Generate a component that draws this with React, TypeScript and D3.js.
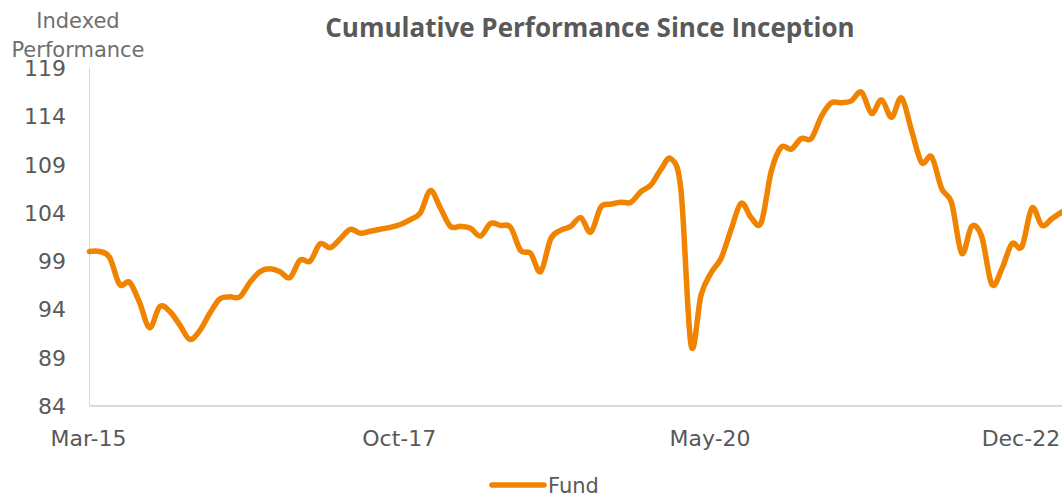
import React from "react";
import * as d3 from "d3";

const fundValues: number[] = [
  100.0, 100.0, 99.4, 96.6, 96.8, 94.7, 92.1, 94.3, 93.8, 92.4,
  90.9, 91.8, 93.6, 95.1, 95.3, 95.3, 96.8, 97.9, 98.2, 97.9,
  97.3, 99.1, 99.0, 100.8, 100.4, 101.3, 102.3, 101.9, 102.1, 102.3,
  102.5, 102.8, 103.3, 104.0, 106.3, 104.5, 102.6, 102.6, 102.4, 101.6,
  102.9, 102.7, 102.5, 100.1, 99.8, 97.9, 101.3, 102.2, 102.6, 103.5,
  102.0, 104.6, 104.9, 105.1, 105.1, 106.2, 106.9, 108.5, 109.6, 106.3,
  90.3, 95.5, 97.8, 99.3, 102.3, 105.0, 103.5, 103.0, 108.3, 110.8,
  110.6, 111.7, 111.7, 114.0, 115.4, 115.4, 115.6, 116.5, 114.3, 115.7,
  113.9, 115.9, 112.5, 109.2, 109.8, 106.5, 105.0, 99.8, 102.6, 101.5,
  96.6, 98.2, 100.8, 100.5, 104.5, 102.7, 103.4, 104.1,
];

const yTicks: number[] = [84, 89, 94, 99, 104, 109, 114, 119];
const xTickIndex: number[] = [0, 31, 62, 93];
const xTickLabels: string[] = ["Mar-15", "Oct-17", "May-20", "Dec-22"];
const seriesName = "Fund";
const chartTitle = "Cumulative Performance Since Inception";
const yAxisTitle: string[] = ["Indexed", "Performance"];

export default function App() {
  const W = 1062;
  const H = 493;
  const left = 89.5;
  const right = 1062;
  const top = 68;
  const bottom = 406;

  const x = d3.scaleLinear().domain([0, 97]).range([left, right]);
  const y = d3.scaleLinear().domain([84, 119]).range([bottom, top]);

  const line = d3
    .line<number>()
    .x((_, i) => x(i))
    .y((d) => y(d))
    .curve(d3.curveCardinal.tension(0));

  const orange = "#F08300";
  const labelColor = "#595959";
  const font = "'DejaVu Sans', sans-serif";

  return (
    <svg
      width={W}
      height={H}
      style={{ position: "absolute", left: 0, top: 0, background: "#fff" }}
    >
      <rect x={0} y={0} width={W} height={H} fill="#fff" />
      <text
        x={590}
        y={37}
        textAnchor="middle"
        fontFamily="'Open Sans', 'Noto Sans', sans-serif"
        fontWeight={700}
        fontSize={26}
        fill={labelColor}
      >
        {chartTitle}
      </text>
      {yAxisTitle.map((t, i) => (
        <text
          key={t}
          x={78}
          y={28 + i * 29}
          textAnchor="middle"
          fontFamily={font}
          fontSize={21}
          fill="#6f6f6f"
        >
          {t}
        </text>
      ))}
      {yTicks.map((t) => (
        <text
          key={t}
          x={66}
          y={y(t) + 8}
          textAnchor="end"
          fontFamily={font}
          fontSize={22}
          fill={labelColor}
        >
          {t}
        </text>
      ))}
      <line x1={left} x2={left} y1={top} y2={bottom} stroke="#d9d9d9" strokeWidth={1} />
      <line x1={left} x2={right} y1={bottom} y2={bottom} stroke="#d9d9d9" strokeWidth={2} />
      {xTickIndex.map((idx, i) => (
        <text
          key={xTickLabels[i]}
          x={x(idx) - 1}
          y={446}
          textAnchor="middle"
          fontFamily={font}
          fontSize={22}
          fill={labelColor}
        >
          {xTickLabels[i]}
        </text>
      ))}
      <path
        d={line(fundValues) || ""}
        fill="none"
        stroke={orange}
        strokeWidth={5.5}
        strokeLinejoin="round"
        strokeLinecap="round"
      />
      <line x1={492} x2={544} y1={485} y2={485} stroke={orange} strokeWidth={5.5} strokeLinecap="round" />
      <text x={548} y={493} fontFamily={font} fontSize={21} fill={labelColor}>
        {seriesName}
      </text>
    </svg>
  );
}
